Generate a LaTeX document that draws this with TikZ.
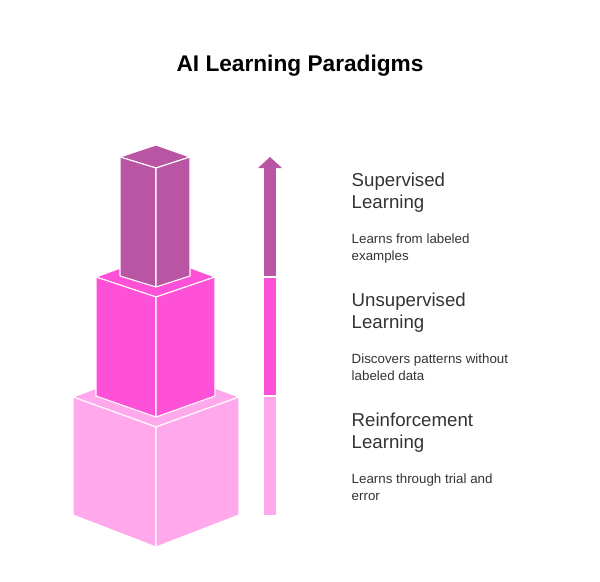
\documentclass[tikz,border=0pt]{standalone}
\usepackage{fontspec}
\setmainfont{Liberation Sans}
\usepackage{xcolor}
\definecolor{supcol}{HTML}{BA55A3}
\definecolor{unscol}{HTML}{FF50D8}
\definecolor{reicol}{HTML}{FFA8EC}
\tikzset{
  face/.style={draw=white, line width=0.8pt, line join=round},
  head/.style={anchor=north west, align=left, font=\fontsize{14}{17}\selectfont, text=black!80},
  desc/.style={anchor=north west, align=left, font=\fontsize{10}{13}\selectfont, text=black!80}
}
\begin{document}
\begin{tikzpicture}[x=0.75pt, y=-0.75pt]
\useasboundingbox (0,0) rectangle (600,582);
% title
\node (title) at (300,66) {\fontsize{17}{20}\selectfont\bfseries AI Learning Paradigms};
% bottom block
\filldraw[face, fill=reicol] (73,397) -- (156,366) -- (239,397) -- (156,427) -- cycle;
\filldraw[face, fill=reicol] (73,397) -- (156,427) -- (156,547) -- (73,515) -- cycle;
\filldraw[face, fill=reicol] (239,397) -- (156,427) -- (156,547) -- (239,515) -- cycle;
% middle block
\filldraw[face, fill=unscol] (96,277) -- (156,255) -- (215,277) -- (156,297) -- cycle;
\filldraw[face, fill=unscol] (96,277) -- (156,297) -- (156,417) -- (96,396) -- cycle;
\filldraw[face, fill=unscol] (215,277) -- (156,297) -- (156,417) -- (215,396) -- cycle;
% top block
\filldraw[face, fill=supcol] (120,157) -- (156,145) -- (190,157) -- (156,168) -- cycle;
\filldraw[face, fill=supcol] (120,157) -- (156,168) -- (156,287) -- (120,276) -- cycle;
\filldraw[face, fill=supcol] (190,157) -- (156,168) -- (156,287) -- (190,276) -- cycle;
% arrow
\fill[reicol] (264,396) rectangle (276,515);
\fill[unscol] (264,277) rectangle (276,396);
\fill[supcol] (264,168) rectangle (276,277);
\fill[supcol] (258,168) -- (270,157) -- (282,168) -- cycle;
\draw[white, line width=0.8pt] (264,396) -- (276,396) (264,277) -- (276,277);
% labels
\node[head] (sup) at (347,168) {Supervised\\Learning};
\node[desc] (supd) at (347,229) {Learns from labeled\\examples};
\node[head] (uns) at (347,288) {Unsupervised\\Learning};
\node[desc] (unsd) at (347,349) {Discovers patterns without\\labeled data};
\node[head] (rei) at (347,408) {Reinforcement\\Learning};
\node[desc] (reid) at (347,469) {Learns through trial and\\error};
\end{tikzpicture}
\end{document}
